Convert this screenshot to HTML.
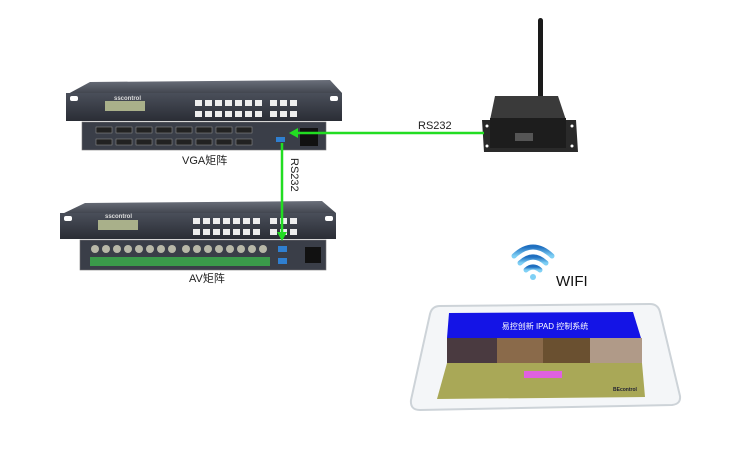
<!DOCTYPE html>
<html><head><meta charset="utf-8"><style>
html,body{margin:0;padding:0;background:#fff;width:750px;height:455px;overflow:hidden}
text{font-family:"Liberation Sans","Noto Sans CJK SC",sans-serif}
</style></head><body>
<svg width="750" height="455" viewBox="0 0 750 455" xmlns="http://www.w3.org/2000/svg">
<defs>
<linearGradient id="top" x1="0" y1="0" x2="0" y2="1"><stop offset="0" stop-color="#6a6f7a"/><stop offset="1" stop-color="#3c4049"/></linearGradient>
<linearGradient id="front" x1="0" y1="0" x2="0" y2="1"><stop offset="0" stop-color="#4a4f5a"/><stop offset="1" stop-color="#2a2d35"/></linearGradient>
<linearGradient id="wifi" x1="0" y1="0" x2="0" y2="1"><stop offset="0" stop-color="#1f6fc0"/><stop offset="1" stop-color="#7fd0f5"/></linearGradient>
</defs>
<!-- VGA matrix -->
<polygon points="90,82 330,80 342,93 66,95" fill="url(#top)"/>
<rect x="66" y="93" width="276" height="28" fill="url(#front)"/>
<rect x="70" y="96" width="8" height="5" fill="#fff" rx="2"/><rect x="330" y="96" width="8" height="5" fill="#fff" rx="2"/>
<rect x="105" y="101" width="40" height="10" fill="#a9b08a"/>
<text x="114" y="100" font-size="6" fill="#ddd" font-weight="bold">sscontrol</text>
<g fill="#eee">
<rect x="195" y="100" width="7" height="6"/><rect x="205" y="100" width="7" height="6"/><rect x="215" y="100" width="7" height="6"/><rect x="225" y="100" width="7" height="6"/><rect x="235" y="100" width="7" height="6"/><rect x="245" y="100" width="7" height="6"/><rect x="255" y="100" width="7" height="6"/><rect x="270" y="100" width="7" height="6"/><rect x="280" y="100" width="7" height="6"/><rect x="290" y="100" width="7" height="6"/>
<rect x="195" y="111" width="7" height="6"/><rect x="205" y="111" width="7" height="6"/><rect x="215" y="111" width="7" height="6"/><rect x="225" y="111" width="7" height="6"/><rect x="235" y="111" width="7" height="6"/><rect x="245" y="111" width="7" height="6"/><rect x="255" y="111" width="7" height="6"/><rect x="270" y="111" width="7" height="6"/><rect x="280" y="111" width="7" height="6"/><rect x="290" y="111" width="7" height="6"/>
</g>
<rect x="82" y="122" width="244" height="28" fill="#3a3e48" stroke="#777" stroke-width="0.6"/>
<g fill="#222" stroke="#999" stroke-width="0.5">
<rect x="96" y="127" width="16" height="6"/><rect x="116" y="127" width="16" height="6"/><rect x="136" y="127" width="16" height="6"/><rect x="156" y="127" width="16" height="6"/><rect x="176" y="127" width="16" height="6"/><rect x="196" y="127" width="16" height="6"/><rect x="216" y="127" width="16" height="6"/><rect x="236" y="127" width="16" height="6"/>
<rect x="96" y="139" width="16" height="6"/><rect x="116" y="139" width="16" height="6"/><rect x="136" y="139" width="16" height="6"/><rect x="156" y="139" width="16" height="6"/><rect x="176" y="139" width="16" height="6"/><rect x="196" y="139" width="16" height="6"/><rect x="216" y="139" width="16" height="6"/><rect x="236" y="139" width="16" height="6"/>
</g>
<rect x="276" y="137" width="9" height="5" fill="#2f7fd0"/>
<rect x="300" y="128" width="18" height="18" fill="#111"/>
<text x="182" y="164" font-size="11" fill="#222">VGA矩阵</text>
<!-- AV matrix -->
<polygon points="85,203 322,201 336,213 60,215" fill="url(#top)"/>
<rect x="60" y="213" width="276" height="26" fill="url(#front)"/>
<rect x="64" y="216" width="8" height="5" fill="#fff" rx="2"/><rect x="325" y="216" width="8" height="5" fill="#fff" rx="2"/>
<rect x="98" y="220" width="40" height="10" fill="#a9b08a"/>
<text x="105" y="218" font-size="6" fill="#ddd" font-weight="bold">sscontrol</text>
<g fill="#eee">
<rect x="193" y="218" width="7" height="6"/><rect x="203" y="218" width="7" height="6"/><rect x="213" y="218" width="7" height="6"/><rect x="223" y="218" width="7" height="6"/><rect x="233" y="218" width="7" height="6"/><rect x="243" y="218" width="7" height="6"/><rect x="253" y="218" width="7" height="6"/><rect x="270" y="218" width="7" height="6"/><rect x="280" y="218" width="7" height="6"/><rect x="290" y="218" width="7" height="6"/>
<rect x="193" y="229" width="7" height="6"/><rect x="203" y="229" width="7" height="6"/><rect x="213" y="229" width="7" height="6"/><rect x="223" y="229" width="7" height="6"/><rect x="233" y="229" width="7" height="6"/><rect x="243" y="229" width="7" height="6"/><rect x="253" y="229" width="7" height="6"/><rect x="270" y="229" width="7" height="6"/><rect x="280" y="229" width="7" height="6"/><rect x="290" y="229" width="7" height="6"/>
</g>
<rect x="80" y="240" width="246" height="30" fill="#3a3e48" stroke="#777" stroke-width="0.6"/>
<rect x="90" y="257" width="180" height="9" fill="#3a9a4a"/>
<g fill="#b8b8a8">
<circle cx="95" cy="249" r="4"/><circle cx="106" cy="249" r="4"/><circle cx="117" cy="249" r="4"/><circle cx="128" cy="249" r="4"/><circle cx="139" cy="249" r="4"/><circle cx="150" cy="249" r="4"/><circle cx="161" cy="249" r="4"/><circle cx="172" cy="249" r="4"/>
<circle cx="186" cy="249" r="4"/><circle cx="197" cy="249" r="4"/><circle cx="208" cy="249" r="4"/><circle cx="219" cy="249" r="4"/><circle cx="230" cy="249" r="4"/><circle cx="241" cy="249" r="4"/><circle cx="252" cy="249" r="4"/><circle cx="263" cy="249" r="4"/>
</g>
<rect x="278" y="246" width="9" height="6" fill="#2f7fd0"/><rect x="278" y="258" width="9" height="6" fill="#2f7fd0"/>
<rect x="305" y="247" width="16" height="16" fill="#111"/>
<text x="189" y="282" font-size="11" fill="#222">AV矩阵</text>
<!-- wireless box -->
<rect x="538" y="18" width="5" height="84" rx="2.5" fill="#1a1a1a"/>
<polygon points="482,120 576,120 578,152 484,152" fill="#2a2a2a"/>
<polygon points="495,96 558,96 566,120 490,120" fill="#3a3a3a"/>
<rect x="490" y="118" width="76" height="30" fill="#1d1d1d"/>
<rect x="515" y="133" width="18" height="8" fill="#555"/>
<circle cx="487" cy="126" r="1.5" fill="#fff"/><circle cx="572" cy="126" r="1.5" fill="#fff"/><circle cx="487" cy="146" r="1.5" fill="#fff"/><circle cx="572" cy="146" r="1.5" fill="#fff"/>
<!-- connectors -->
<line x1="484" y1="133" x2="296" y2="133" stroke="#22dd22" stroke-width="2.5"/>
<polygon points="289,133 298,128 298,138" fill="#22dd22"/>
<line x1="282" y1="143" x2="282" y2="234" stroke="#22dd22" stroke-width="2.5"/>
<polygon points="282,241 277,232 287,232" fill="#22dd22"/>
<text x="418" y="129" font-size="11" fill="#222">RS232</text>
<text transform="translate(291,158) rotate(90)" font-size="11" fill="#222">RS232</text>
<!-- wifi -->
<path d="M514,256 Q533,238 552,256" stroke="url(#wifi)" stroke-width="5" fill="none" stroke-linecap="round"/>
<path d="M520,263 Q533,251 546,263" stroke="url(#wifi)" stroke-width="5" fill="none" stroke-linecap="round"/>
<path d="M526,270 Q533,264 540,270" stroke="url(#wifi)" stroke-width="5" fill="none" stroke-linecap="round"/>
<circle cx="533" cy="277" r="3" fill="#7fd0f5"/>
<text x="556" y="286" font-size="15" fill="#111">WIFI</text>
<!-- ipad -->
<path d="M440,306 L650,304 Q658,304 660,312 L680,396 Q681,404 672,405 L420,410 Q410,410 411,400 L430,314 Q432,306 440,306 Z" fill="#f4f6f8" stroke="#cdd3d8" stroke-width="2"/>
<polygon points="449,313 633,312 641,338 447,338" fill="#1414e6"/>
<text x="545" y="329" font-size="8" fill="#fff" text-anchor="middle" font-family="Liberation Serif,Noto Serif CJK SC,serif">易控创新 IPAD 控制系统</text>
<rect x="447" y="338" width="50" height="25" fill="#4a3a40"/>
<rect x="497" y="338" width="46" height="25" fill="#8a6a4a"/>
<rect x="543" y="338" width="47" height="25" fill="#6a5030"/>
<rect x="590" y="338" width="52" height="25" fill="#b09a88"/>
<polygon points="447,363 642,363 645,397 437,399" fill="#a9a857"/>
<rect x="524" y="371" width="38" height="7" fill="#e060e0"/>
<text x="613" y="391" font-size="5" fill="#223" font-weight="bold">BEcontrol</text>
</svg>
</body></html>
